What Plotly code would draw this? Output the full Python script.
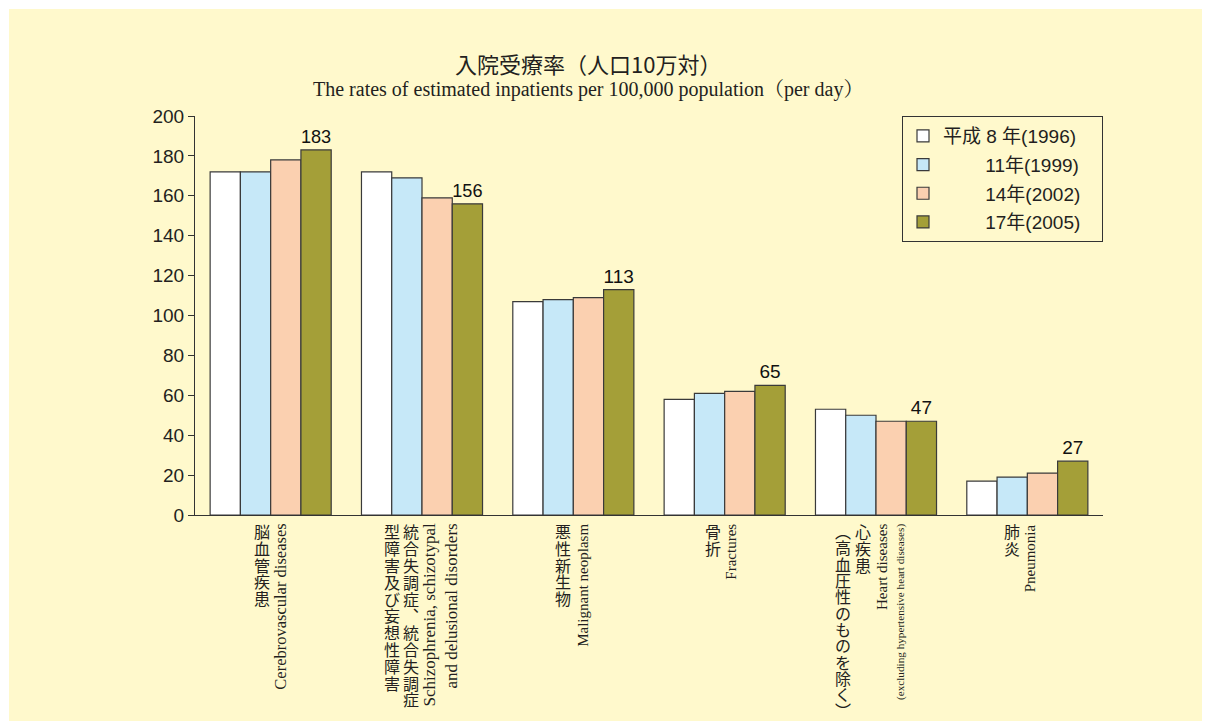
import plotly.graph_objects as go

# ---------------- data ----------------
categories = ["脳血管疾患", "統合失調症等", "悪性新生物", "骨折", "心疾患", "肺炎"]
series_names = ["平成 8 年(1996)", "11年(1999)", "14年(2002)", "17年(2005)"]
v1996 = [172, 172, 107, 58, 53, 17]
v1999 = [172, 169, 108, 61, 50, 19]
v2002 = [178, 159, 109, 62, 47, 21]
v2005 = [183, 156, 113, 65, 47, 27]
y_ticks = [0, 20, 40, 60, 80, 100, 120, 140, 160, 180, 200]

title_jp = "入院受療率（人口10万対）"
title_en = "The rates of estimated inpatients per 100,000 population（per day）"

# Japanese vertical label columns per category (right column first)
jp_columns = [
    ["脳血管疾患"],
    ["統合失調症、統合失調症", "型障害及び妄想性障害"],
    ["悪性新生物"],
    ["骨折"],
    ["心疾患", "(高血圧性のものを除く)"],
    ["肺炎"],
]
# English rotated labels per category
en_labels = [
    ["Cerebrovascular diseases"],
    ["Schizophrenia, schizotypal<br>and delusional disorders"],
    ["Malignant neoplasm"],
    ["Fractures"],
    ["Heart diseases", "(excluding hypertensive heart diseases)"],
    ["Pneumonia"],
]

# ---------------- styles / layout ----------------
BG = "#FFF9CC"
colors = ["#FFFFFF", "#C6E8F8", "#FBD0B0", "#A49F38"]
values = [v1996, v1999, v2002, v2005]
NB = "\u00a0"
pad_left = ["", NB * 8, NB * 8, NB * 8]
pad_right = NB * 3

OFF = 8  # page body margin
W, H = 1210, 721
L, T = 195 - OFF, 116 - OFF
R = W - (1103 - OFF)
B = H - (515 - OFF)
PW, PH = W - L - R, H - T - B


def py(p):  # screen pixel y -> paper
    return (H - B - (p - OFF)) / PH


def px(p):  # screen pixel x -> paper
    return ((p - OFF) - L) / PW


fig = go.Figure()
for i, (name, vals, col) in enumerate(zip(series_names, values, colors)):
    last = i == len(series_names) - 1
    fig.add_trace(go.Bar(
        x=categories, y=vals, name=pad_left[i] + name + pad_right,
        legendgroup=str(i),
        marker=dict(color=col, line=dict(color="#3a3a3a", width=1.2)),
        text=[str(v) for v in vals] if last else None,
        textposition="outside" if last else None,
        textfont=dict(size=19, color="#111111", family="Liberation Sans, Arial"),
        cliponaxis=False,
    ))

annotations = []
# titles
annotations.append(dict(text=title_jp, xref="paper", yref="paper", x=px(588), y=py(63),
                        xanchor="center", yanchor="middle", showarrow=False,
                        font=dict(size=22, color="#231f20", family="Noto Sans CJK JP")))
annotations.append(dict(text=title_en, xref="paper", yref="paper", x=px(588), y=py(90),
                        xanchor="center", yanchor="middle", showarrow=False,
                        font=dict(size=20, color="#231f20", family="Liberation Serif, Noto Serif CJK JP")))

# Japanese vertical labels
vert = {"(": "︵", ")": "︶", "、": "︑"}
jp_dx = [[-9], [-11, -30], [-10], [-12], [-13, -33], [-15]]
jp_step = [[16.7], [16.8, 16.8], [16.7], [16.7], [16.7, 16.3], [16.7]]
top = 523
for ci, cat in enumerate(categories):
    for k, coltext in enumerate(jp_columns[ci]):
        for j, ch in enumerate(coltext):
            annotations.append(dict(
                text=vert.get(ch, ch), xref="x", yref="paper", x=cat,
                xshift=jp_dx[ci][k], y=py(top + jp_step[ci][k] * (j + 0.5)),
                xanchor="center", yanchor="middle", showarrow=False,
                font=dict(size=16, color="#231f20", family="Noto Sans CJK JP")))

# English rotated labels
en_dx = [[9], [18], [9], [6], [6, 24], [3]]
en_size = [[16.5], [17], [15], [15], [15, 11.2], [15]]
for ci, cat in enumerate(categories):
    for k, t in enumerate(en_labels[ci]):
        annotations.append(dict(
            text=t, xref="x", yref="paper", x=cat, xshift=en_dx[ci][k], y=py(top - 1),
            xanchor="center", yanchor="top", textangle=-90, align="right", showarrow=False,
            font=dict(size=en_size[ci][k], color="#231f20", family="Liberation Serif, Times New Roman")))

fig.update_layout(
    width=W, height=H,
    margin=dict(l=L, r=R, t=T, b=B, pad=0),
    paper_bgcolor="white",
    plot_bgcolor="rgba(0,0,0,0)",
    barmode="group", bargap=0.2, bargroupgap=0,
    showlegend=True,
    legend=dict(x=px(902), y=1.0, xanchor="left", yanchor="top",
                bgcolor="rgba(0,0,0,0)", bordercolor="#333333", borderwidth=1,
                font=dict(size=19, color="#231f20", family="Liberation Sans, Noto Sans CJK JP"),
                traceorder="grouped", tracegroupgap=1),
    annotations=annotations,
    shapes=[dict(type="rect", xref="paper", yref="paper", x0=px(9), x1=px(1225),
                 y0=py(740), y1=py(9), fillcolor=BG, line=dict(width=0), layer="below")],
    xaxis=dict(showline=True, linecolor="#333333", linewidth=1.2, showticklabels=False,
               ticks="", showgrid=False, zeroline=False),
    yaxis=dict(range=[0, 200], tickvals=y_ticks, showline=True, linecolor="#333333",
               linewidth=1.2, ticks="outside", ticklen=6, tickcolor="#333333",
               showgrid=False, zeroline=False,
               tickfont=dict(size=19, color="#231f20", family="Liberation Sans, Arial")),
)

fig.write_html("out.html")
